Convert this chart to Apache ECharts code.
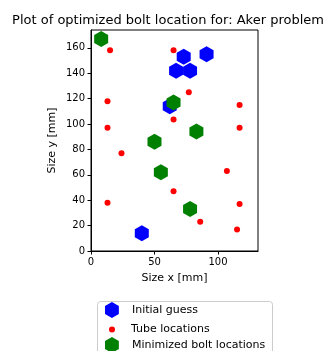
<!DOCTYPE html>
<html><head><meta charset="utf-8">
<script src="https://cdn.jsdelivr.net/npm/echarts@6/dist/echarts.min.js"></script>
<style>html,body{margin:0;padding:0;background:#fff}#c{width:336px;height:351px}</style>
</head><body><div id="c"></div>
<script>
const initialGuess = [[73,153],[91,155],[67,142],[78,142],[62,114],[40,14]];
const tubeLocations = [[15,158],[65,158],[77,125],[13,118],[117,115],[65,103.5],[13,97],[117,97],[24,77],[107,63],[65,47],[13,38],[117,37],[86,23],[115,17]];
const minimizedBolts = [[8,167],[65,117],[83,94],[50,86],[55,62],[78,33]];
const xTicks = [0,50,100];
const yTicks = [0,20,40,60,80,100,120,140,160];

const hex = 'path://M0,-1 L0.866,-0.5 L0.866,0.5 L0,1 L-0.866,0.5 L-0.866,-0.5 Z';
const font = 'DejaVu Sans';
const chart = echarts.init(document.getElementById('c'), null, {renderer:'canvas'});
const legendBase = {orient:'vertical', left:105, itemGap:0, padding:0};
const legText = pad => ({fontFamily:font,fontSize:11,color:'#000',padding:[0,0,0,pad]});
chart.setOption({
  animation:false,
  title:{text:'Plot of optimized bolt location for: Aker problem', left:'center', top:9,
    textStyle:{fontFamily:font,fontSize:13,fontWeight:'normal',color:'#000'}},
  grid:{left:91,right:78,top:30,bottom:100,show:true,borderColor:'#000',borderWidth:1,containLabel:false},
  xAxis:{type:'value',min:0,max:131.5,name:'Size x [mm]',nameLocation:'middle',nameGap:22,
    nameTextStyle:{fontFamily:font,fontSize:11,color:'#000'},
    axisLine:{show:true,lineStyle:{color:'#000'}},
    axisTick:{show:true,length:3.5,customValues:xTicks,lineStyle:{color:'#000'}},
    axisLabel:{customValues:xTicks,fontFamily:font,fontSize:10,color:'#000',margin:6},
    splitLine:{show:false}},
  yAxis:{type:'value',min:0,max:174,name:'Size y [mm]',nameLocation:'middle',nameGap:33,
    nameTextStyle:{fontFamily:font,fontSize:11,color:'#000'},
    axisLine:{show:true,lineStyle:{color:'#000'}},
    axisTick:{show:true,length:3.5,customValues:yTicks,lineStyle:{color:'#000'}},
    axisLabel:{customValues:yTicks,fontFamily:font,fontSize:10,color:'#000',margin:6},
    splitLine:{show:false}},
  legend:[
    Object.assign({},legendBase,{top:302,itemWidth:14,itemHeight:16,textStyle:legText(8),data:[{name:'Initial guess',icon:hex}]}),
    Object.assign({},legendBase,{top:324,left:109,itemWidth:6,itemHeight:6,textStyle:legText(11),data:[{name:'Tube locations',icon:'circle'}]}),
    Object.assign({},legendBase,{top:337,itemWidth:14,itemHeight:16,textStyle:legText(8),data:[{name:'Minimized bolt locations',icon:hex}]})
  ],
  graphic:[{type:'rect',left:97,top:301,shape:{width:175,height:60,r:3},style:{fill:'#fff',stroke:'#ccc',lineWidth:1},z:-1}],
  series:[
    {name:'Initial guess',type:'scatter',data:initialGuess,symbol:hex,symbolSize:[14,16],itemStyle:{color:'#0000ff',opacity:1}},
    {name:'Tube locations',type:'scatter',data:tubeLocations,symbol:'circle',symbolSize:6,itemStyle:{color:'#ff0000',opacity:1}},
    {name:'Minimized bolt locations',type:'scatter',data:minimizedBolts,symbol:hex,symbolSize:[14,16],itemStyle:{color:'#008000',opacity:1}}
  ]
});
</script></body></html>
